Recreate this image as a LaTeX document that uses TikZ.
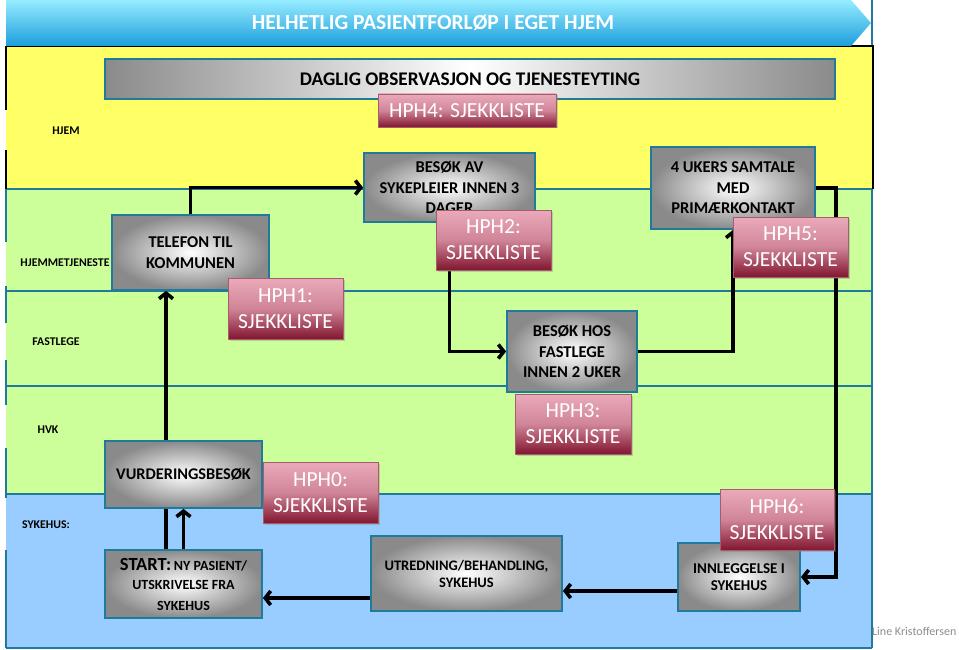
\documentclass[tikz,border=0pt]{standalone}
\usepackage{fontspec}
\setmainfont{Carlito}
\usetikzlibrary{arrows.meta,shadows,calc}
\pgfdeclarelayer{lanes}
\pgfdeclarelayer{arrows}
\pgfsetlayers{lanes,arrows,main}
\definecolor{laneY}{RGB}{255,255,102}
\definecolor{laneG}{RGB}{204,255,153}
\definecolor{laneB}{RGB}{153,204,255}
\definecolor{lineteal}{RGB}{31,122,156}
\definecolor{boxgray}{RGB}{138,138,138}
\definecolor{redtop}{RGB}{234,170,186}
\definecolor{redbot}{RGB}{130,22,48}
\definecolor{bantop}{RGB}{150,236,255}
\definecolor{banbot}{RGB}{28,158,220}
\definecolor{signgray}{RGB}{140,140,140}
\tikzset{
  graybox/.style={draw=lineteal, line width=1.8pt, shading=radial, inner color=white, outer color=boxgray,
    align=center, font=\bfseries\fontsize{16.5}{20.5}\selectfont, inner sep=0pt},
  redbox/.style={draw=redbot!70!white, line width=0.6pt, top color=redtop, bottom color=redbot, middle color=redtop!75!redbot,
    text=white, align=center, font=\fontsize{21.5}{26}\selectfont, inner sep=0pt,
    drop shadow={opacity=0.35, shadow xshift=1.5pt, shadow yshift=-1.5pt}},
  lanelabel/.style={font=\bfseries\fontsize{11.8}{13}\selectfont, inner sep=0pt},
  arr/.style={line width=3.6pt, -{Straight Barb[length=5.5pt,width=14pt]}},
  lanesep/.style={draw=lineteal, line width=1.4pt},
}
\begin{document}
\begin{tikzpicture}[x=1pt,y=-1pt]
\useasboundingbox (0,0) rectangle (959,650);
\begin{pgfonlayer}{lanes}
  % lanes
  \fill[laneY] (6,46) rectangle (872,189);
  \fill[laneG] (6,189) rectangle (872,494);
  \fill[laneB] (6,494) rectangle (872,648);
  \foreach \yy in {189,291,386,494,648} \draw[lanesep] (6,\yy) -- (872,\yy);
  \draw[lanesep] (872,0) -- (872,46);
  \draw[lanesep] (872,189) -- (872,648);
  \draw[line width=2pt] (6,46) -- (873,46) -- (873,189);
  \draw[line width=2pt] (6,46) -- (6,110) (6,150) -- (6,189);
  \draw[lanesep] (6,189) -- (6,242) (6,286) -- (6,323) (6,360) -- (6,405) (6,448) -- (6,498) (6,550) -- (6,648);
  % title banner
  \shade[top color=bantop, bottom color=banbot] (6,0) -- (851,0) -- (871,23) -- (851,46) -- (6,46) -- cycle;
\end{pgfonlayer}
\node[text=white, font=\bfseries\fontsize{21.5}{24}\selectfont] (title) at (433,23) {HELHETLIG PASIENTFORLØP I EGET HJEM};
% lane labels
\node[lanelabel] (lhjem) at (66,131) {HJEM};
\node[lanelabel] (lhjt) at (65,263) {HJEMMETJENESTE};
\node[lanelabel] (lfast) at (56,342) {FASTLEGE};
\node[lanelabel] (lhvk) at (48,430) {HVK};
\node[lanelabel] (lsyk) at (46,525) {SYKEHUS:};
% gray boxes
\node[draw=lineteal, line width=1.8pt, left color=boxgray, right color=boxgray, middle color=white,
  minimum width=730pt, minimum height=40pt, inner sep=0pt, font=\bfseries\fontsize{19.3}{22}\selectfont] (daglig) at (470,79) {DAGLIG OBSERVASJON OG TJENESTEYTING};
\node[graybox, minimum width=171pt, minimum height=69pt] (besokav) at (449.5,187.5) {BESØK AV\\SYKEPLEIER INNEN 3\\DAGER};
\node[graybox, minimum width=164pt, minimum height=82pt] (ukers) at (733,188) {4 UKERS SAMTALE\\MED\\PRIMÆRKONTAKT};
\node[graybox, minimum width=157pt, minimum height=75pt] (telefon) at (190.5,252.5) {TELEFON TIL\\KOMMUNEN};
\node[graybox, minimum width=130pt, minimum height=81pt] (besokhos) at (572,351.5) {BESØK HOS\\FASTLEGE\\INNEN 2 UKER};
\node[graybox, minimum width=157pt, minimum height=67pt, font=\bfseries\fontsize{16.3}{20}\selectfont] (vurd) at (183.5,474.5) {VURDERINGSBESØK};
\node[graybox, minimum width=157pt, minimum height=68pt] (start) at (183.5,584)
  {{\fontsize{18.5}{20}\selectfont START:}\,{\fontsize{14}{17}\selectfont NY PASIENT/}\\[-1pt]
   {\fontsize{14}{17}\selectfont UTSKRIVELSE FRA}\\{\fontsize{14}{17}\selectfont SYKEHUS}};
\node[graybox, minimum width=191pt, minimum height=75pt, font=\bfseries\fontsize{14.5}{17}\selectfont] (utred) at (466.5,573.5) {UTREDNING/BEHANDLING,\\SYKEHUS};
\node[graybox, minimum width=122pt, minimum height=68pt, font=\bfseries\fontsize{15}{17}\selectfont] (innl) at (739,577) {INNLEGGELSE I\\SYKEHUS};
% red checklist boxes
\node[redbox, minimum width=178pt, minimum height=33pt] (hph4) at (467,110.5) {HPH4: SJEKKLISTE};
\node[redbox, minimum width=115pt, minimum height=60pt] (hph2) at (493.5,240) {HPH2:\\SJEKKLISTE};
\node[redbox, minimum width=115pt, minimum height=60pt] (hph5) at (790.5,247) {HPH5:\\SJEKKLISTE};
\node[redbox, minimum width=115pt, minimum height=61pt] (hph1) at (285.5,308.5) {HPH1:\\SJEKKLISTE};
\node[redbox, minimum width=116pt, minimum height=60pt] (hph3) at (573,424) {HPH3:\\SJEKKLISTE};
\node[redbox, minimum width=115pt, minimum height=61pt] (hph0) at (320.5,492.5) {HPH0:\\SJEKKLISTE};
\node[redbox, minimum width=114pt, minimum height=61pt] (hph6) at (777,519.5) {HPH6:\\SJEKKLISTE};
% signature
\node[text=signgray, font=\fontsize{12}{13}\selectfont, anchor=west, inner sep=0pt] (sign) at (872,631) {Line Kristoffersen};
% connectors
\coordinate (xa) at (166,0);
\coordinate (xb) at (836,0);
\coordinate (ya) at (0,591);
\coordinate (yb) at (0,598);
\begin{pgfonlayer}{arrows}
  \draw[arr] (start.north -| xa) -- (telefon.south -| xa);
  \draw[arr] (start.north) -- (vurd.south);
  \draw[arr] (telefon.north) |- (besokav.west);
  \draw[arr] (besokav.south) |- (besokhos.west);
  \draw[arr] (besokhos.east) -| (ukers.south);
  \draw[arr] (ukers.east) -- (ukers.east -| xb) -- (innl.east -| xb) -- (innl.east);
  \draw[arr] (innl.west |- ya) -- (utred.east |- ya);
  \draw[arr] (utred.west |- yb) -- (start.east |- yb);
\end{pgfonlayer}
\end{tikzpicture}
\end{document}
